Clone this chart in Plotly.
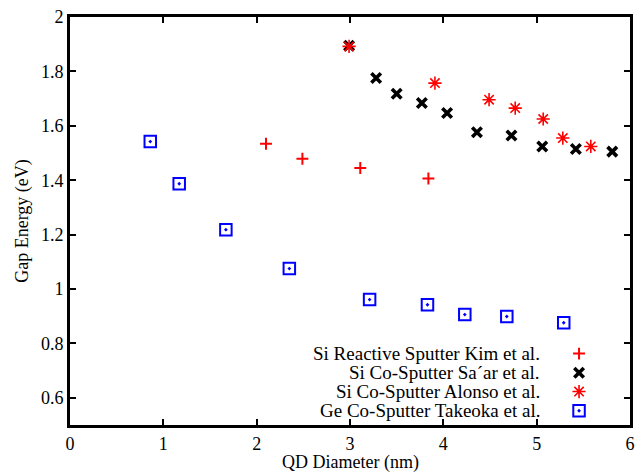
import plotly.graph_objects as go

# Data
kim_x = [2.10, 2.49, 3.11, 3.84]
kim_y = [1.534, 1.479, 1.445, 1.406]

saar_x = [2.99, 3.28, 3.50, 3.77, 4.04, 4.36, 4.73, 5.06, 5.42, 5.81]
saar_y = [1.894, 1.776, 1.718, 1.684, 1.647, 1.576, 1.564, 1.524, 1.515, 1.505]

alonso_x = [2.99, 3.91, 4.49, 4.77, 5.07, 5.28, 5.58]
alonso_y = [1.892, 1.757, 1.696, 1.665, 1.625, 1.555, 1.524]

takeoka_x = [0.86, 1.17, 1.67, 2.35, 3.21, 3.83, 4.23, 4.68, 5.29]
takeoka_y = [1.542, 1.387, 1.218, 1.075, 0.961, 0.942, 0.906, 0.899, 0.876]

series_names = [
    "Si Reactive Sputter Kim et al.",
    "Si Co-Sputter Sa\u00b4ar et al.",
    "Si Co-Sputter Alonso et al.",
    "Ge Co-Sputter Takeoka et al.",
]

FONT = "'Liberation Serif', 'Times New Roman', serif"

styles = [
    dict(symbol="cross-thin", size=8.5, color="#ff0000", line=dict(color="#ff0000", width=2)),
    dict(symbol="x-thin", size=9.5, color="#000000", line=dict(color="#000000", width=3.6)),
    dict(symbol="asterisk", size=11, color="#ff0000", line=dict(color="#ff0000", width=1.6)),
    dict(symbol="square-open-dot", size=11.5, color="#0000ff", line=dict(color="#0000ff", width=2)),
]

fig = go.Figure()
data = [(kim_x, kim_y), (saar_x, saar_y), (alonso_x, alonso_y), (takeoka_x, takeoka_y)]
for (xs, ys), st, name in zip(data, styles, series_names):
    fig.add_trace(go.Scatter(x=xs, y=ys, mode="markers", marker=st, name=name,
                             showlegend=False, cliponaxis=False))

# Manual gnuplot-style key (text right-aligned, sample on the right)
key_sym_x = 0.909
key_text_x = 0.842
key_rows_y = [0.175, 0.128, 0.082, 0.035]
for st, name, ky in zip(styles, series_names, key_rows_y):
    fig.add_trace(go.Scatter(x=[key_sym_x], y=[ky], mode="markers", marker=st,
                             xaxis="x2", yaxis="y2", showlegend=False, hoverinfo="skip"))
    fig.add_annotation(x=key_text_x, y=ky, xref="x2", yref="y2", text=name,
                       showarrow=False, xanchor="right", yanchor="middle",
                       font=dict(family=FONT, size=19, color="black"))

# x-axis title placed below tick labels
fig.add_annotation(x=0.5, y=-0.0915, xref="paper", yref="paper",
                   text="QD Diameter (nm)", showarrow=False,
                   xanchor="center", yanchor="middle",
                   font=dict(family=FONT, size=18, color="black"))

axis_common = dict(
    showline=True, linecolor="black", linewidth=3, mirror="ticks",
    ticks="inside", ticklen=6, tickwidth=2, tickcolor="black",
    showgrid=False, zeroline=False,
    tickfont=dict(family=FONT, size=18, color="black"),
)

fig.update_layout(
    width=641, height=472,
    margin=dict(l=70, r=6, t=17, b=47),
    paper_bgcolor="white", plot_bgcolor="white",
    font=dict(family=FONT, size=18, color="black"),
    xaxis=dict(range=[0, 6], dtick=1, tick0=0, ticklabelstandoff=0,
               **axis_common),
    yaxis=dict(range=[0.5, 2], dtick=0.2, tick0=0.6,
               title=dict(text="Gap Energy (eV)", standoff=8,
                          font=dict(family=FONT, size=18)),
               **axis_common),
    xaxis2=dict(range=[0, 1], overlaying="x", visible=False, fixedrange=True),
    yaxis2=dict(range=[0, 1], overlaying="y", visible=False, fixedrange=True),
)

fig.write_html("out.html")
